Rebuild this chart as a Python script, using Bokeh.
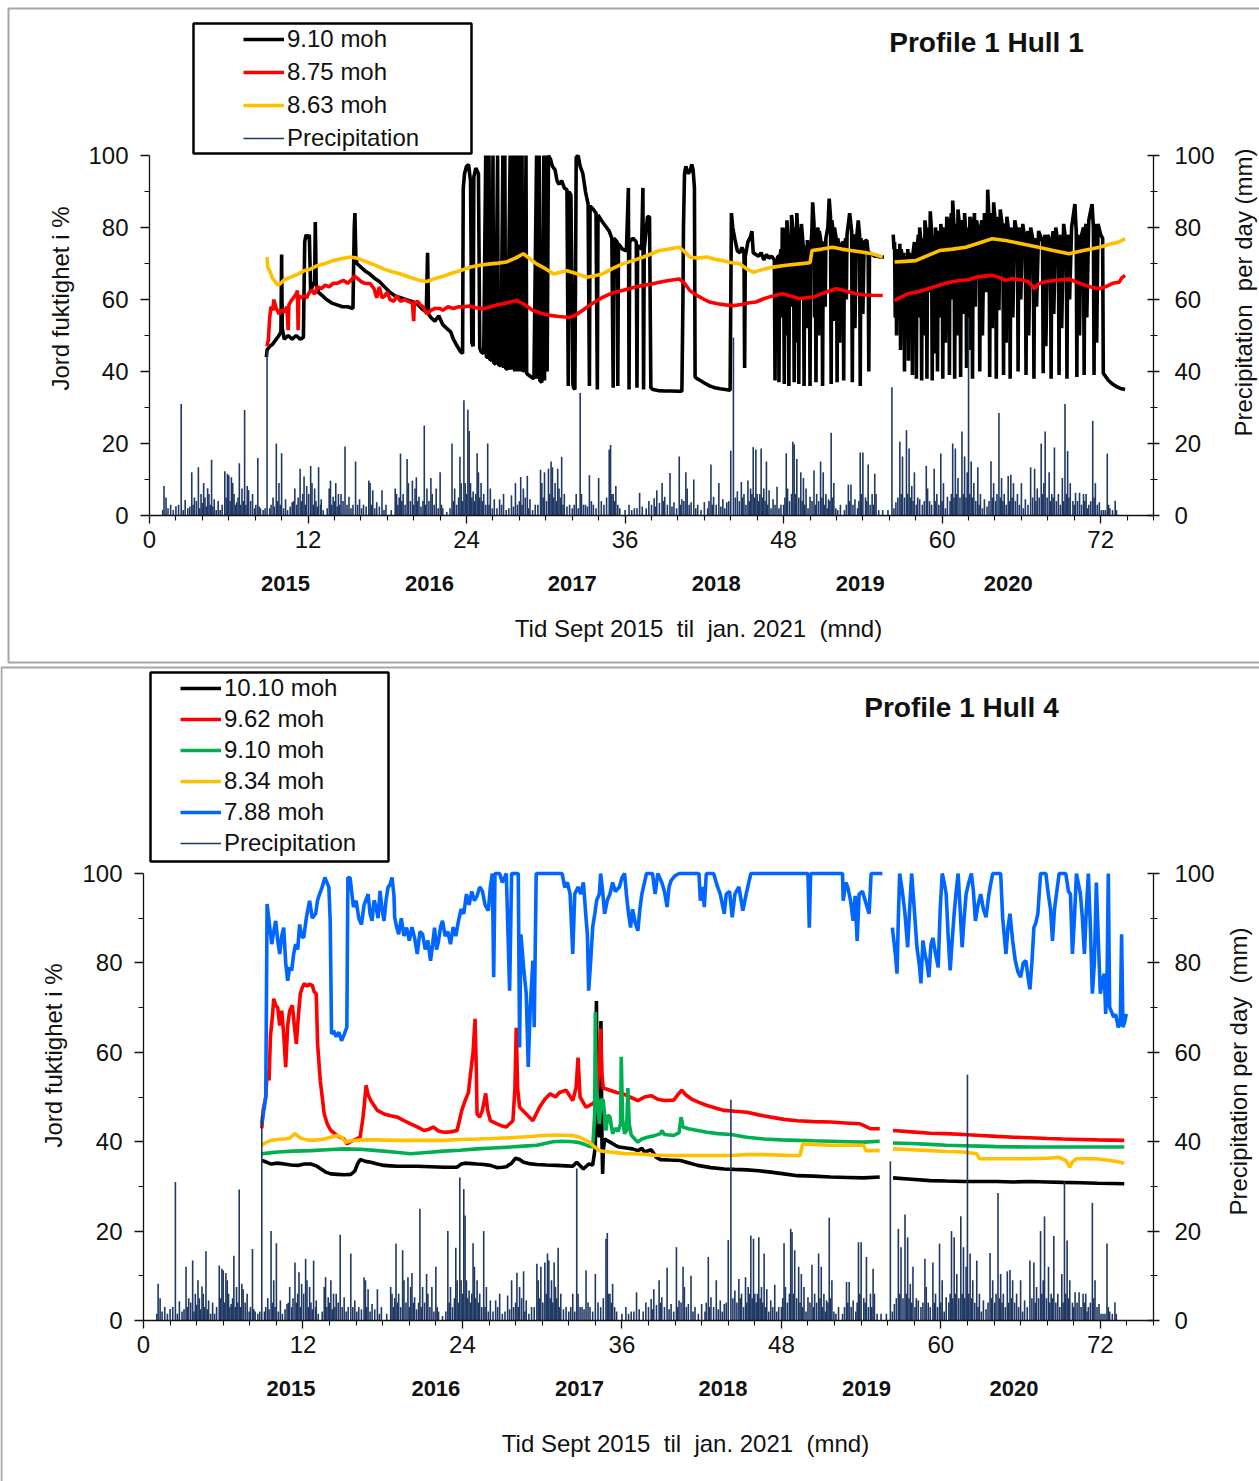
import math
from bokeh.plotting import figure
from bokeh.models import (Range1d, LinearAxis, FixedTicker, Legend, LegendItem,
                          Label, BoxAnnotation)
from bokeh.layouts import column
from bokeh.embed import file_html
from bokeh.resources import INLINE

NAN = float("nan")

# ---------------- DATA (month since Sept 2015, value) ----------------
# daily precipitation (mm): the visible peaks
precipitation = [
    (1.1, 8.2), (1.25, 5), (1.6, 3), (2.0, 2.6), (2.4, 31), (2.7, 4.3), (2.9, 2), (3.2, 12), (3.4, 5),
    (3.7, 13.4), (3.9, 6), (4.1, 9), (4.2, 5), (4.4, 7.6), (4.5, 6), (4.7, 15.5), (4.9, 4.5), (5.2, 4),
    (5.7, 12.3), (5.9, 11.6), (6.0, 11.2), (6.2, 10.6), (6.3, 9), (6.4, 6), (6.6, 3.7), (6.8, 14.5),
    (7.0, 7.5), (7.2, 29.3), (7.4, 8.2), (7.5, 7), (7.8, 6), (8.2, 16), (8.4, 2), (8.9, 46), (9.1, 2),
    (9.6, 20), (9.8, 9), (10.0, 17.3), (10.3, 4.5), (10.8, 3.7), (11.0, 7.5), (11.4, 13), (11.6, 6),
    (11.7, 10.8), (11.9, 8.2), (12.2, 13.8), (12.3, 9), (12.5, 7.5), (12.8, 13.4), (13.0, 4.5),
    (13.6, 7.5), (13.7, 9.7), (13.9, 5.2), (14.1, 9), (14.3, 6), (14.5, 6), (14.8, 19.2), (15.1, 5.2),
    (15.6, 15), (15.9, 4.5), (16.2, 3), (16.6, 9.7), (16.7, 9), (16.9, 7), (17.2, 3.7), (17.6, 7),
    (17.9, 3), (18.6, 7.5), (18.7, 6), (19.0, 17.2), (19.2, 6), (19.5, 15.7), (19.6, 9), (19.9, 9.7),
    (20.1, 7.5), (20.2, 10.6), (20.4, 5.2), (20.8, 25), (21.0, 7.5), (21.3, 10.4), (21.4, 6),
    (21.7, 7.5), (22.0, 12), (22.2, 2), (22.9, 20), (23.1, 7.5), (23.5, 16.3), (23.6, 9), (23.8, 32),
    (23.9, 9), (24.1, 29.4), (24.2, 23.5), (24.3, 9), (24.5, 6.7), (24.8, 17.3), (24.9, 12), (25.1, 9),
    (25.3, 6), (25.6, 20), (25.8, 7.5), (26.1, 4.5), (26.5, 4.5), (26.8, 6), (27.4, 5.6), (27.7, 9),
    (28.1, 10.7), (28.3, 7.5), (28.6, 11), (28.8, 4.5), (29.2, 3), (29.6, 12.7), (29.7, 9), (29.9, 12),
    (30.2, 13), (30.4, 15), (30.5, 13.4), (30.7, 9), (30.9, 13), (31.0, 7.5), (31.2, 16.3), (31.4, 6),
    (31.8, 3), (32.3, 6), (32.6, 34), (32.7, 6), (33.0, 3), (33.3, 11.2), (33.6, 3), (34.0, 10.4),
    (34.4, 3), (34.8, 18.3), (34.9, 19.6), (35.1, 6), (35.3, 8.2), (35.6, 2), (36.3, 3), (36.7, 2),
    (37.1, 6.3), (37.8, 4), (38.2, 4.8), (38.4, 7), (38.8, 9), (39.0, 5.2), (39.4, 11.8), (39.7, 3.7),
    (40.1, 16.4), (40.3, 4.5), (40.6, 12), (40.7, 7.5), (41.0, 3.7), (41.2, 10), (41.5, 3), (42.0, 3.7),
    (42.5, 14.2), (42.7, 5.2), (43.1, 9), (43.4, 4.5), (43.7, 3.7), (44.0, 18), (44.2, 49.4),
    (44.5, 6.7), (44.8, 9.3), (45.0, 6), (45.3, 9.7), (45.5, 7.5), (45.7, 19), (45.9, 18.3), (46.0, 6),
    (46.3, 18.6), (46.5, 7.5), (46.7, 15), (46.9, 7), (47.2, 4.5), (47.5, 8), (47.8, 3), (48.2, 17.3),
    (48.3, 7.5), (48.7, 20.5), (48.8, 19.8), (49.0, 15.7), (49.3, 12), (49.5, 10.4), (49.7, 7.5),
    (50.0, 5.2), (50.3, 12.5), (50.5, 6), (50.8, 15), (51.0, 12), (51.2, 6), (51.4, 4.5), (51.6, 23),
    (51.8, 9), (52.3, 3), (52.9, 8.6), (53.1, 8.6), (53.4, 4.5), (53.8, 17.5), (54.0, 17.5),
    (54.4, 14.2), (54.7, 6), (54.9, 11.6), (55.0, 6), (55.5, 1.5), (55.9, 1.5), (56.2, 35.6),
    (56.5, 3.7), (56.8, 20.5), (57.0, 16.4), (57.3, 23.7), (57.5, 18.6), (57.7, 8.2), (57.9, 12),
    (58.3, 4.5), (58.8, 13.8), (58.9, 7.5), (59.4, 13), (59.6, 6), (59.9, 17.2), (60.1, 9), (60.4, 5.2),
    (60.8, 20), (61.0, 18.6), (61.2, 10.4), (61.5, 23.3), (61.7, 16.4), (61.9, 12), (62.0, 55),
    (62.2, 15), (62.4, 9), (62.7, 13.4), (62.9, 6), (63.2, 4.5), (63.7, 15.1), (63.9, 9), (64.3, 28.5),
    (64.5, 10.4), (64.7, 6), (65.0, 11), (65.2, 11.3), (65.4, 9), (65.7, 6), (66.0, 9), (66.3, 4.5),
    (66.7, 13.4), (67.0, 13), (67.2, 7.5), (67.5, 20), (67.7, 9), (67.8, 23.3), (68.1, 12), (68.3, 6),
    (68.5, 18.9), (68.8, 6), (69.1, 10.4), (69.3, 31), (69.5, 17.9), (69.7, 9), (70.1, 6.3), (70.4, 6.3),
    (70.7, 6), (70.9, 6), (71.1, 3), (71.4, 26.3), (71.6, 9), (71.9, 3.7), (72.2, 1.5), (72.5, 17.2),
    (72.7, 2), (73.1, 4.1), (73.2, 1.5),
]

# daily precipitation (mm): the light rain days between the peaks
precipitation_light = [
    (1.0, 1.5), (1.4, 2), (1.8, 1.5), (2.2, 3), (2.55, 1.5), (3.05, 2.5), (3.3, 3), (3.55, 4), (3.8, 2),
    (4.0, 3.5), (4.3, 2.5), (4.6, 3), (4.8, 2.5), (5.05, 1.5), (5.35, 1.5), (5.5, 3), (5.8, 5), (6.1, 4),
    (6.5, 3), (6.7, 5), (6.9, 3), (7.1, 4), (7.3, 3), (7.65, 4), (7.95, 2), (8.05, 3), (8.3, 2.5),
    (8.6, 1.5), (8.75, 2), (9.2, 3), (9.35, 5), (9.45, 2.5), (9.7, 4), (9.9, 3), (10.15, 2), (10.45, 1.5),
    (10.65, 2.5), (10.9, 4), (11.15, 3), (11.25, 5), (11.5, 4), (11.8, 3), (12.05, 6), (12.4, 3),
    (12.6, 4), (12.7, 2.5), (12.95, 3), (13.15, 1.5), (13.45, 2), (13.8, 3), (14.0, 4), (14.2, 2.5),
    (14.4, 3), (14.65, 4), (14.95, 3), (15.25, 2), (15.4, 3), (15.75, 3), (16.05, 2), (16.4, 2.5),
    (16.8, 3), (17.05, 2), (17.4, 2.5), (17.75, 1.5), (18.3, 1.5), (18.8, 3), (18.9, 5), (19.1, 4),
    (19.35, 3), (19.75, 4), (20.0, 3), (20.3, 4), (20.55, 2.5), (20.7, 4), (20.9, 3), (21.15, 4),
    (21.55, 3), (21.85, 2), (22.1, 3), (22.5, 1), (22.75, 2), (23.0, 4), (23.25, 3), (23.4, 5), (23.7, 4),
    (24.0, 6), (24.4, 5), (24.6, 4), (24.7, 6), (25.0, 5), (25.2, 4), (25.45, 3), (25.7, 3), (25.95, 2),
    (26.3, 2), (26.65, 3), (27.0, 1.5), (27.2, 2), (27.55, 2.5), (27.85, 3), (28.0, 4), (28.2, 3),
    (28.45, 5), (28.7, 2), (29.0, 1.5), (29.4, 3), (29.8, 5), (30.05, 4), (30.3, 6), (30.6, 5), (30.8, 4),
    (31.1, 5), (31.3, 3), (31.6, 2.5), (32.0, 2), (32.15, 3), (32.45, 2), (32.85, 3), (33.15, 2.5),
    (33.45, 4), (33.8, 2), (34.2, 4), (34.6, 5), (35.0, 6), (35.2, 4), (35.45, 3), (36.0, 1.5),
    (36.5, 1.5), (36.9, 2), (37.3, 2.5), (37.6, 2), (38.0, 3), (38.3, 2.5), (38.6, 3.5), (38.9, 4),
    (39.2, 3), (39.55, 2.5), (39.9, 2), (40.2, 3), (40.45, 4), (40.85, 3), (41.35, 2), (41.75, 1.5),
    (42.25, 2), (42.35, 4), (42.6, 3), (42.9, 3), (43.25, 2.5), (43.55, 2), (43.85, 4), (44.35, 5),
    (44.65, 4), (44.9, 5), (45.15, 3), (45.4, 4), (45.6, 6), (45.8, 5), (46.1, 4), (46.2, 6), (46.4, 5),
    (46.6, 4), (46.8, 3), (47.05, 2), (47.35, 3), (47.65, 2), (48.0, 3), (48.1, 5), (48.45, 4), (48.6, 6),
    (48.9, 6), (49.15, 5), (49.4, 4), (49.6, 3), (49.85, 2), (50.15, 4), (50.4, 3), (50.65, 4), (50.9, 5),
    (51.1, 3), (51.3, 2), (51.5, 4), (51.7, 5), (51.95, 2), (52.1, 1.5), (52.6, 1.5), (52.75, 3),
    (53.0, 4), (53.25, 3), (53.6, 2), (53.7, 4), (53.9, 6), (54.2, 5), (54.3, 4), (54.55, 3), (54.8, 3),
    (55.2, 1.5), (56.35, 2), (56.65, 5), (56.9, 6), (57.15, 5), (57.4, 6), (57.6, 5), (57.8, 4),
    (58.05, 3), (58.15, 5), (58.5, 3), (58.65, 4), (59.05, 4), (59.2, 3), (59.5, 4), (59.75, 3), (60.0, 4),
    (60.25, 2), (60.6, 4), (60.7, 6), (60.9, 5), (61.1, 6), (61.35, 5), (61.6, 6), (61.8, 5), (62.1, 6),
    (62.3, 5), (62.55, 4), (62.8, 3), (63.05, 2), (63.4, 2.5), (63.55, 4), (63.8, 5), (64.05, 4),
    (64.15, 6), (64.4, 5), (64.6, 4), (64.85, 3), (65.1, 4), (65.3, 5), (65.55, 4), (65.85, 3), (66.15, 2),
    (66.5, 3), (66.85, 5), (67.1, 4), (67.35, 5), (67.6, 6), (67.95, 5), (68.2, 4), (68.4, 5), (68.65, 4),
    (68.95, 3), (69.2, 4), (69.4, 6), (69.6, 5), (69.9, 4), (70.0, 3), (70.25, 4), (70.55, 3), (70.8, 4),
    (71.0, 2), (71.25, 4), (71.5, 5), (71.75, 3), (72.05, 1.5), (72.35, 1.5), (72.6, 3), (72.9, 1.5),
]

hull1_910 = [
    (8.85, 44), (8.9, 46), (9.1, 47), (9.3, 47.5), (9.5, 48.5), (9.8, 50), (9.95, 51), (10.0, 72.5),
    (10.05, 52), (10.2, 49), (10.5, 50), (10.8, 49), (11.1, 50), (11.4, 49), (11.65, 49.5), (11.75, 76),
    (11.85, 78), (12.0, 77), (12.1, 78), (12.2, 62), (12.35, 64), (12.5, 65), (12.55, 81.5), (12.62, 64),
    (12.8, 62), (13.1, 61), (13.4, 60), (13.8, 59), (14.2, 58.5), (14.6, 58), (15.0, 58), (15.4, 57.5),
    (15.5, 80), (15.55, 84), (15.62, 72), (15.7, 70), (16.0, 69), (16.3, 68), (16.7, 67), (17.0, 66),
    (17.4, 65), (17.8, 63.5), (18.2, 62), (18.6, 61), (19.0, 60.5), (19.4, 60), (19.8, 59.5), (20.2, 59),
    (20.6, 57.5), (20.95, 56.5), (21.05, 73), (21.12, 56), (21.3, 55), (21.6, 54), (21.9, 55.5),
    (22.2, 53), (22.5, 52), (22.8, 51), (23.0, 49), (23.3, 47), (23.55, 45.5), (23.7, 45),
    (23.75, 91), (23.85, 95), (24.0, 97), (24.15, 97.5), (24.3, 93), (24.4, 48), (24.5, 47), (24.55, 94),
    (24.7, 96.5), (24.9, 95), (25.0, 46.5), (25.1, 45.5), (25.3, 45), (25.45, 100), (25.5, 44),
    (25.6, 44), (25.7, 100), (25.75, 43.5), (25.9, 43), (26.0, 100), (26.05, 42.5), (26.2, 42),
    (26.35, 100), (26.4, 42), (26.6, 41.5), (26.75, 100), (26.8, 41), (26.9, 100), (26.95, 41),
    (27.1, 40.5), (27.3, 100), (27.35, 40.5), (27.45, 100), (27.5, 40.5), (27.6, 100), (27.65, 40),
    (27.75, 100), (27.8, 40), (27.9, 100), (27.95, 40), (28.05, 100), (28.1, 40), (28.2, 100),
    (28.25, 40), (28.4, 40.5), (28.5, 100), (28.55, 39.5), (28.7, 39), (28.9, 38.5), (29.1, 38),
    (29.3, 100), (29.35, 38), (29.5, 100), (29.55, 37.5), (29.7, 37), (29.85, 100), (29.9, 37.5),
    (30.05, 100), (30.1, 40), (30.2, 100), (30.35, 99), (30.5, 97), (30.7, 96), (30.85, 93), (31.0, 92),
    (31.2, 93), (31.4, 91), (31.6, 90.5), (31.7, 36), (31.75, 90), (31.9, 89), (32.05, 36.5),
    (32.1, 35.5), (32.2, 35), (32.3, 99.5), (32.45, 100), (32.6, 97), (32.8, 95), (33.0, 90),
    (33.2, 86.5), (33.3, 36), (33.35, 86), (33.6, 85), (33.8, 84), (33.9, 35), (33.95, 83.5),
    (34.2, 82), (34.5, 80.5), (34.8, 79), (35.0, 77), (35.1, 35.5), (35.15, 77), (35.4, 76),
    (35.45, 36), (35.5, 75.5), (35.8, 74), (36.1, 73.5), (36.25, 91), (36.3, 35), (36.35, 76),
    (36.6, 77), (36.85, 76), (36.9, 35.5), (36.95, 75), (37.25, 74), (37.35, 91), (37.4, 35),
    (37.45, 74), (37.7, 83), (37.85, 83), (37.95, 35.5),
    (38.1, 35), (38.5, 34.7), (39.0, 34.6), (39.5, 34.6), (40.0, 34.5), (40.3, 34.5), (40.38, 60),
    (40.42, 80), (40.5, 95), (40.6, 97), (40.75, 95), (40.9, 95.5), (41.05, 97.5), (41.15, 96),
    (41.25, 91), (41.3, 38.5), (41.45, 38), (41.7, 37.5), (42.0, 36.8), (42.4, 36), (42.8, 35.5),
    (43.2, 35.2), (43.6, 35), (43.95, 34.8),
    (44.05, 84), (44.15, 80), (44.3, 77), (44.5, 73.5), (44.7, 73), (44.85, 74.5), (45.0, 73),
    (45.05, 41), (45.1, 72), (45.3, 76), (45.5, 77.5), (45.6, 79), (45.7, 73), (45.9, 72.5), (46.1, 72),
    (46.3, 73), (46.5, 71), (46.7, 72.5), (46.9, 71.5), (47.1, 72), (47.3, 71), (47.35, 37.5),
    (47.4, 70), (47.5, 60), (47.55, 72), (47.6, 72), (47.65, 37), (47.7, 71), (47.8, 74), (47.85, 55),
    (47.9, 80), (48.0, 72), (48.05, 36.5), (48.1, 78), (48.2, 80), (48.22, 50), (48.25, 82), (48.35, 76),
    (48.4, 36), (48.45, 75), (48.55, 78), (48.57, 58), (48.6, 83.5), (48.75, 78), (48.8, 37),
    (48.85, 77), (48.95, 80), (48.97, 48), (49.0, 84), (49.1, 76), (49.15, 36.5), (49.2, 78), (49.3, 80),
    (49.32, 60), (49.35, 81), (49.5, 74), (49.55, 36), (49.6, 73), (49.7, 75), (49.72, 52), (49.8, 76.5),
    (49.95, 72), (50.0, 36), (50.05, 73), (50.15, 80), (50.2, 87), (50.3, 81), (50.35, 55), (50.4, 79),
    (50.45, 37), (50.5, 78), (50.6, 80), (50.65, 50), (50.7, 79), (50.9, 74.5), (50.95, 36), (51.0, 75),
    (51.1, 76), (51.15, 58), (51.2, 77), (51.35, 80), (51.45, 88), (51.55, 83), (51.6, 36.5),
    (51.65, 82), (51.75, 79), (51.8, 54), (51.85, 80), (52.0, 76.5), (52.05, 37), (52.1, 77), (52.2, 74),
    (52.25, 48), (52.3, 75), (52.5, 76), (52.55, 37.5), (52.6, 75), (52.7, 77), (52.75, 60), (52.8, 78),
    (53.0, 84), (53.15, 79), (53.2, 37), (53.25, 78), (53.35, 77), (53.4, 52), (53.5, 76), (53.65, 82),
    (53.75, 78), (53.8, 36), (53.85, 77), (53.95, 75), (54.0, 56), (54.1, 76), (54.3, 76.5), (54.4, 73),
    (54.45, 40), (54.5, 73), (54.7, 72.5), (54.9, 72), (55.1, 72), (55.3, 71.8), (55.6, 71.8),
    (55.9, NAN),
    (56.3, 78), (56.35, 74), (56.4, 76), (56.45, 55), (56.5, 73), (56.55, 50), (56.6, 74), (56.7, 72),
    (56.75, 62), (56.8, 75.5), (56.85, 46), (56.9, 74), (57.0, 71), (57.05, 58), (57.1, 73), (57.15, 40),
    (57.2, 72), (57.3, 70), (57.35, 52), (57.4, 74), (57.45, 43), (57.5, 73), (57.6, 71), (57.65, 60),
    (57.7, 72.5), (57.75, 39), (57.8, 73), (57.9, 76), (57.95, 48), (58.0, 75), (58.05, 38), (58.1, 74),
    (58.2, 78), (58.25, 55), (58.3, 80), (58.4, 76), (58.45, 37.5), (58.5, 77), (58.6, 75), (58.65, 50),
    (58.7, 82), (58.8, 78), (58.85, 38), (58.9, 77), (59.0, 80), (59.05, 62), (59.1, 84.5), (59.2, 79),
    (59.25, 37.5), (59.3, 78), (59.4, 76), (59.45, 45), (59.5, 80), (59.6, 76), (59.65, 40), (59.7, 77),
    (59.8, 79), (59.85, 55), (59.9, 81), (60.0, 77), (60.05, 38), (60.1, 78), (60.2, 80), (60.25, 48),
    (60.35, 83), (60.5, 79), (60.55, 39), (60.6, 80), (60.7, 84), (60.75, 60), (60.8, 87.5), (60.9, 80),
    (60.95, 38), (61.0, 81), (61.1, 79), (61.15, 50), (61.2, 85), (61.35, 79), (61.4, 38.5), (61.45, 80),
    (61.55, 82), (61.6, 56), (61.7, 84), (61.8, 78), (61.85, 41), (61.9, 80), (62.0, 78), (62.05, 46),
    (62.1, 83), (62.25, 79), (62.3, 38), (62.35, 80), (62.45, 84), (62.5, 58), (62.6, 82), (62.8, 78),
    (62.85, 40), (62.9, 79), (63.0, 82), (63.05, 50), (63.2, 84), (63.3, 80), (63.35, 62), (63.45, 90.5),
    (63.55, 82), (63.6, 38.5), (63.65, 81), (63.75, 84), (63.8, 52), (63.9, 87), (64.05, 80), (64.1, 38),
    (64.15, 80), (64.25, 83), (64.3, 57), (64.4, 85), (64.6, 79), (64.65, 39), (64.7, 80), (64.8, 81),
    (64.85, 48), (64.9, 83), (65.1, 77), (65.15, 38), (65.2, 78), (65.3, 80), (65.35, 55), (65.5, 82),
    (65.7, 78), (65.75, 40), (65.8, 78), (65.9, 80), (65.95, 60), (66.1, 81), (66.3, 76), (66.35, 39),
    (66.4, 77), (66.5, 79), (66.55, 50), (66.7, 80), (66.9, 76), (66.95, 38), (67.0, 77), (67.1, 75),
    (67.15, 58), (67.3, 79), (67.6, 76), (67.65, 39.5), (67.7, 76), (67.8, 78), (67.85, 47), (68.0, 78),
    (68.2, 75), (68.25, 38), (68.3, 76), (68.4, 79), (68.45, 56), (68.6, 80), (68.8, 75), (68.85, 39),
    (68.9, 76), (69.0, 78), (69.05, 52), (69.2, 81), (69.4, 75), (69.45, 38), (69.5, 76), (69.6, 78),
    (69.65, 60), (69.8, 80), (70.05, 86.5), (70.15, 79), (70.2, 38.5), (70.25, 78), (70.35, 76),
    (70.4, 50), (70.5, 77), (70.7, 80), (70.75, 39), (70.8, 79), (70.9, 81), (70.95, 55), (71.1, 82),
    (71.35, 86.5), (71.45, 80), (71.5, 39), (71.55, 79), (71.65, 81), (71.7, 48), (71.8, 81), (72.0, 78),
    (72.15, 77), (72.2, 39.5), (72.4, 38.5), (72.6, 37.5), (72.9, 36.5), (73.2, 35.8), (73.5, 35.3),
    (73.85, 35),
]

hull1_875 = [
    (8.9, 47), (9.0, 49), (9.1, 55), (9.2, 58), (9.35, 57), (9.4, 60), (9.6, 57.5), (9.8, 56), (10.0, 57),
    (10.2, 56.5), (10.4, 58), (10.5, 51.5), (10.55, 58.5), (10.7, 59.5), (10.9, 60.5), (11.1, 61.5),
    (11.2, 62.5), (11.25, 51.5), (11.3, 61), (11.5, 60.5), (11.7, 61), (11.9, 60.5), (12.1, 62),
    (12.3, 62.5), (12.5, 61.5), (12.7, 63.5), (13.0, 63), (13.3, 64), (13.6, 63.5), (13.9, 64.5),
    (14.2, 64.5), (14.5, 65), (14.7, 65.3), (15.0, 64.5), (15.3, 65.5), (15.5, 66.5), (15.7, 66),
    (16.0, 65), (16.3, 64.5), (16.7, 64.4), (17.0, 63), (17.2, 60.5), (17.4, 63.5), (17.6, 60.5),
    (17.8, 61), (18.0, 62), (18.2, 60), (18.5, 59.5), (18.7, 61), (19.0, 59.5), (19.3, 60), (19.6, 59.5),
    (19.9, 59), (20.0, 54), (20.05, 59), (20.3, 59.5), (20.5, 58.5), (20.7, 58), (21.0, 56), (21.3, 57),
    (21.6, 57.5), (22.0, 57.5), (22.2, 57), (22.6, 58), (23.0, 57.5), (23.4, 58), (23.75, 57.9),
    (24.2, 58.2), (24.7, 57.7), (25.3, 57.4), (25.8, 58), (26.3, 58.5), (26.8, 58.8), (27.3, 59.3),
    (27.8, 59.7), (28.3, 58.8), (29.0, 57), (29.6, 56.2), (30.3, 55.6), (31.0, 55.3), (31.8, 55),
    (32.3, 55.8), (32.8, 57), (33.5, 58.8), (34.3, 60.6), (35.0, 61.8), (35.8, 62.5), (36.5, 63.2),
    (37.3, 63.9), (38.0, 64.3), (38.6, 64.8), (39.3, 65.3), (40.1, 65.7), (40.5, 64.5), (40.9, 62.5),
    (41.5, 61), (42.0, 60), (42.4, 59.3), (43.0, 58.8), (43.6, 58.5), (44.2, 58.3), (44.8, 58.6),
    (45.4, 59.1), (45.9, 59.3), (46.5, 60.2), (47.2, 61), (47.9, 61.6), (48.5, 61), (49.2, 60.2),
    (49.7, 60.5), (50.2, 60.6), (50.8, 61.5), (51.4, 62.3), (52.0, 63), (52.6, 62.5), (53.0, 62),
    (53.5, 61.6), (54.0, 61.3), (54.7, 61.2), (55.5, 61.1),
    (55.9, NAN),
    (56.4, 59.7), (56.8, 60.5), (57.4, 61.6), (58.0, 62), (58.6, 62.6), (59.3, 63.4), (60.0, 64.2),
    (60.6, 64.8), (61.3, 65.3), (62.0, 65.5), (62.6, 66.2), (63.2, 66.5), (63.8, 66.7), (64.4, 66),
    (64.8, 65.3), (65.3, 65.8), (65.9, 65.5), (66.5, 65), (67.0, 63), (67.3, 64.4), (67.9, 65),
    (68.5, 65.3), (69.0, 65.5), (69.6, 65.7), (70.2, 64.8), (70.8, 64), (71.4, 63.3), (71.9, 63),
    (72.4, 63.6), (72.9, 64.5), (73.4, 64.8), (73.6, 66), (73.85, 66.7),
]

hull1_863 = [
    (8.9, 71.8), (8.95, 69), (9.1, 68), (9.3, 66), (9.5, 65), (9.7, 64), (9.9, 64.4), (10.2, 65.5),
    (10.7, 66.2), (11.2, 67), (11.7, 68), (12.2, 68.5), (12.7, 69.4), (13.3, 70), (13.9, 70.8),
    (14.5, 71.3), (15.2, 71.8), (15.7, 71.5), (16.2, 70.8), (16.9, 69.8), (17.7, 68.5), (18.3, 67.8),
    (19.0, 67.1), (19.7, 66.2), (20.5, 65.3), (21.0, 65), (21.5, 65.7), (22.1, 66.3), (22.7, 67.1),
    (23.5, 68), (24.3, 69), (25.0, 69.5), (25.8, 69.9), (26.4, 70.1), (27.0, 70.4), (27.7, 71.5),
    (28.3, 72.7), (28.8, 71.3), (29.3, 69.9), (30.0, 68.5), (30.6, 67.1), (31.1, 67.6), (31.6, 68),
    (32.3, 67.2), (33.1, 66.2), (33.7, 66.6), (34.3, 67.1), (35.0, 68.5), (35.8, 69.9), (36.6, 70.8),
    (37.4, 71.8), (38.0, 72.7), (38.6, 73.6), (39.3, 74), (40.1, 74.5), (40.5, 73.3), (40.9, 71.8),
    (41.5, 71.5), (42.2, 71.8), (42.8, 71.2), (43.4, 70.8), (44.0, 70.3), (44.7, 69.9), (45.2, 68.5),
    (45.7, 67.6), (46.4, 68.3), (47.2, 69), (48.2, 69.5), (49.2, 69.9), (50.0, 70.2), (50.15, 73.6),
    (50.9, 74), (51.7, 74.5), (52.4, 74), (53.1, 73.6), (53.9, 73.2), (54.7, 72.7), (55.5, 71.8),
    (55.9, NAN),
    (56.4, 70.4), (57.2, 70.6), (58.0, 70.8), (58.9, 72.2), (59.8, 73.6), (60.8, 74), (61.8, 74.5),
    (62.8, 75.7), (63.8, 76.9), (64.8, 76.4), (66.0, 75.5), (67.3, 74.5), (68.4, 73.6), (69.6, 72.7),
    (70.7, 73.6), (71.9, 74.5), (72.8, 75.5), (73.4, 76), (73.85, 76.9),
]

hull4_1010 = [
    (8.9, 35.8), (9.2, 35.5), (9.6, 35), (10.1, 35.2), (10.6, 35), (11.1, 34.8), (11.6, 34.7),
    (12.1, 35), (12.6, 35), (13.0, 34.6), (13.3, 34), (13.7, 33.2), (14.1, 32.8), (14.6, 32.7),
    (15.1, 32.6), (15.6, 32.7), (15.9, 33.4), (16.1, 35), (16.3, 36), (16.7, 35.6), (17.1, 35.4),
    (17.6, 35), (18.1, 34.7), (18.6, 34.6), (19.1, 34.5), (19.8, 34.5), (20.6, 34.5), (21.6, 34.4),
    (22.6, 34.3), (23.6, 34.3), (23.9, 35), (24.2, 35.2), (24.7, 35.1), (25.1, 35), (25.6, 34.9),
    (26.1, 34.7), (26.6, 34.2), (27.0, 34.3), (27.3, 34.4), (27.7, 35.2), (28.0, 36.3), (28.3, 36),
    (28.6, 35.4), (29.0, 35.1), (29.6, 34.9), (30.3, 34.8), (31.1, 34.7), (31.8, 34.6), (32.3, 34.5),
    (32.6, 35.4), (32.9, 34.5), (33.1, 33.9), (33.5, 35), (33.8, 34.8), (34.0, 38.8), (34.08, 71.5),
    (34.15, 43), (34.3, 41), (34.42, 67), (34.5, 40), (34.55, 32.8), (34.6, 38), (34.7, 40.6),
    (35.1, 39.9), (35.5, 39.2), (35.8, 38.8), (36.3, 38.6), (36.8, 38.4), (37.2, 38), (37.5, 38.5),
    (37.7, 37.7), (38.2, 38.2), (38.6, 36.5), (38.9, 36), (39.6, 35.9), (40.4, 35.8), (41.0, 35.3),
    (41.7, 34.7), (42.7, 34.2), (43.7, 33.9), (44.5, 33.8), (45.4, 33.7), (46.3, 33.5), (47.2, 33.2),
    (48.2, 32.8), (49.2, 32.4), (50.4, 32.3), (51.7, 32.1), (53.0, 32), (54.2, 31.9), (55.4, 32.1),
    (55.9, NAN),
    (56.4, 31.9), (57.8, 31.6), (59.2, 31.3), (60.4, 31.2), (61.7, 31.1), (63.0, 31.1), (64.2, 31.1),
    (65.5, 31), (66.7, 31.1), (68.0, 31), (69.2, 30.9), (70.5, 30.8), (71.8, 30.7), (73.8, 30.6),
]

hull4_962 = [
    (8.9, 43), (9.0, 47), (9.2, 50), (9.3, 55.9), (9.45, 53.7), (9.55, 63.4), (9.7, 68), (9.8, 72),
    (9.95, 70.5), (10.1, 70), (10.25, 66), (10.4, 69.3), (10.55, 64), (10.7, 56.7), (10.85, 66),
    (11.0, 69.3), (11.2, 70.5), (11.35, 66), (11.5, 61.9), (11.65, 68), (11.8, 73.1), (11.95, 74.5),
    (12.1, 75.4), (12.3, 74.8), (12.45, 75.2), (12.7, 75), (12.85, 73.5), (13.0, 73.1), (13.1, 61.9),
    (13.3, 53.7), (13.45, 50), (13.6, 46.2), (13.85, 43.8), (14.1, 42.5), (14.6, 41.3), (15.1, 40.6),
    (15.3, 39.5), (15.7, 40.2), (16.0, 40.6), (16.3, 41), (16.5, 45), (16.6, 47.7), (16.75, 52.6),
    (16.9, 50.5), (17.1, 49.2), (17.6, 47), (18.1, 46.2), (18.6, 45.8), (19.1, 45.5), (19.6, 44.7),
    (20.1, 44), (20.6, 43.3), (21.1, 42.5), (21.5, 42.8), (21.8, 43.3), (22.2, 42.4), (22.6, 42.1),
    (23.1, 42.2), (23.6, 42.5), (23.95, 47), (24.2, 49.2), (24.45, 51), (24.6, 55), (24.8, 60),
    (24.95, 67.5), (25.05, 55), (25.1, 46.2), (25.3, 45.5), (25.5, 47), (25.75, 50.8), (25.9, 47),
    (26.1, 44.7), (26.6, 44), (27.0, 43.5), (27.3, 43.3), (27.8, 44.7), (27.95, 52), (28.05, 65.5),
    (28.15, 52), (28.3, 47.7), (28.8, 46.2), (29.3, 44.7), (29.8, 47.7), (30.2, 49.5), (30.6, 50.7),
    (31.0, 50), (31.3, 51), (31.8, 51.5), (32.3, 49.2), (32.55, 52), (32.7, 58.8), (32.85, 50),
    (33.3, 47.7), (33.8, 48.5), (34.1, 49.5), (34.25, 56), (34.4, 65.3), (34.5, 55), (34.6, 52),
    (35.1, 51.5), (35.6, 51), (36.1, 50.7), (36.6, 50), (37.2, 49.2), (37.7, 50), (38.2, 50.3),
    (38.7, 49.5), (39.2, 49.2), (39.9, 49.3), (40.2, 50.5), (40.5, 51.5), (40.8, 50.5), (41.2, 49.6),
    (41.8, 48.8), (42.4, 48.1), (43.1, 47.5), (43.7, 47), (44.5, 46.8), (45.4, 46.6), (46.3, 46),
    (47.2, 45.5), (48.2, 45), (49.2, 44.7), (50.4, 44.5), (51.7, 44.4), (52.8, 44.2), (53.9, 44),
    (54.3, 43.5), (54.7, 42.9), (55.4, 42.9),
    (55.9, NAN),
    (56.4, 42.5), (57.8, 42.2), (59.2, 41.9), (60.4, 41.8), (61.7, 41.6), (63.0, 41.4), (64.2, 41.2),
    (65.5, 41), (66.7, 40.9), (68.0, 40.7), (69.2, 40.6), (70.5, 40.5), (71.8, 40.4), (73.8, 40.3),
]

hull4_910 = [
    (8.9, 37.3), (9.5, 37.5), (10.1, 37.7), (11.3, 37.9), (12.6, 38), (13.8, 38.2), (15.1, 38.4),
    (16.3, 38.3), (17.6, 38), (18.8, 37.7), (20.1, 37.3), (21.3, 37.6), (22.6, 37.9), (23.8, 38.1),
    (25.1, 38.4), (26.3, 38.6), (27.6, 38.8), (28.6, 39), (29.6, 39.2), (30.2, 39.6), (30.8, 40),
    (31.5, 40.1), (32.3, 40), (32.8, 39.8), (33.1, 39.5), (33.5, 39), (33.8, 38.8), (33.95, 46.2),
    (34.0, 69), (34.05, 52), (34.15, 50), (34.3, 44), (34.45, 49.5), (34.6, 49.2), (34.8, 42.5),
    (34.95, 46), (35.1, 45.5), (35.3, 41.8), (35.5, 43), (35.7, 42.3), (35.9, 44), (35.95, 59),
    (36.05, 45), (36.2, 41.8), (36.35, 42.5), (36.45, 52), (36.55, 44), (36.7, 41.5), (37.0, 40.5),
    (37.2, 39.9), (37.5, 40.6), (37.9, 41), (38.4, 41.3), (38.9, 41.8), (39.0, 42.5), (39.2, 41.6),
    (39.9, 41.4), (40.3, 42), (40.45, 45.5), (40.6, 43.3), (41.0, 42.9), (41.7, 42.5), (42.4, 42.1),
    (43.2, 41.8), (44.2, 41.6), (45.4, 41), (46.7, 40.6), (48.0, 40.4), (49.2, 40.3), (50.4, 40.2),
    (51.7, 40.1), (53.0, 40), (54.2, 39.9), (55.4, 40.1),
    (55.9, NAN),
    (56.4, 39.7), (57.8, 39.6), (59.2, 39.4), (60.4, 39.2), (61.7, 39.1), (63.0, 39), (64.2, 38.9),
    (66.7, 38.8), (69.2, 38.8), (71.5, 38.8), (73.8, 38.8),
]

hull4_834 = [
    (8.9, 39.2), (9.2, 39.8), (9.6, 40.3), (10.1, 40.5), (10.6, 40.6), (11.0, 40.8), (11.4, 41.8),
    (11.8, 40.8), (12.2, 40.5), (12.6, 40.3), (13.1, 40.4), (13.6, 40.6), (14.1, 41), (14.6, 41.4),
    (14.9, 41), (15.2, 39.9), (15.6, 40.2), (16.1, 40.3), (16.8, 40.4), (17.6, 40.4), (18.8, 40.3),
    (20.1, 40.3), (21.3, 40.3), (22.6, 40.3), (23.8, 40.5), (25.1, 40.6), (26.3, 40.7), (27.6, 40.9),
    (28.8, 41.1), (30.1, 41.4), (31.2, 41.5), (32.3, 41.4), (32.8, 41), (33.1, 40.6), (33.5, 40),
    (33.8, 39.2), (34.3, 38), (34.7, 37.8), (35.1, 37.7), (35.7, 37.5), (36.3, 37.3), (36.7, 37.3),
    (37.6, 37.2), (38.4, 37), (39.2, 36.9), (40.4, 36.9), (41.7, 36.9), (43.0, 36.9), (44.2, 36.9),
    (45.4, 37.1), (46.7, 37.1), (47.9, 37), (48.8, 36.9), (49.4, 36.9), (49.6, 39.5), (50.4, 39.4),
    (51.7, 39.2), (53.0, 39.2), (54.2, 39.2), (54.35, 38), (55.4, 38),
    (55.9, NAN),
    (56.4, 38.4), (57.8, 38.2), (59.2, 38), (60.4, 37.8), (61.7, 37.7), (62.7, 37.3), (62.9, 36.2),
    (64.2, 36.2), (65.5, 36.2), (66.7, 36.2), (68.0, 36.3), (68.9, 36.5), (69.4, 35.8), (69.7, 34.3),
    (69.9, 35.5), (70.2, 36.2), (71.0, 36.2), (71.7, 36.2), (72.7, 35.8), (73.3, 35.5), (73.8, 35.2),
]

hull4_788 = [
    (8.9, 44), (9.05, 47), (9.2, 50), (9.3, 93.2), (9.5, 88), (9.65, 84.2), (9.8, 87), (9.95, 89.4),
    (10.1, 85), (10.25, 82), (10.4, 86), (10.55, 87.9), (10.7, 80), (10.85, 76), (11.0, 79),
    (11.15, 78.3), (11.3, 82), (11.45, 84.2), (11.6, 83), (11.75, 88.6), (11.9, 86), (12.05, 85.6),
    (12.25, 90), (12.5, 93.9), (12.7, 90), (12.95, 91), (13.1, 94), (13.25, 95.4), (13.45, 97),
    (13.65, 99.1), (13.8, 98), (13.95, 96.9), (14.05, 89.4), (14.15, 64.1), (14.3, 64.8), (14.5, 63.5),
    (14.7, 64.5), (14.9, 62.6), (15.1, 64), (15.3, 65.6), (15.38, 99.1), (15.55, 99), (15.7, 95),
    (15.8, 92.5), (16.0, 93.9), (16.2, 90), (16.4, 88.6), (16.6, 93), (16.9, 95.4), (17.05, 91),
    (17.2, 89.4), (17.35, 94), (17.5, 92.5), (17.65, 90), (17.8, 96.1), (17.95, 92), (18.1, 89.4),
    (18.25, 94), (18.4, 96.9), (18.55, 97.5), (18.7, 99.1), (18.85, 95), (18.9, 90.2), (19.05, 88),
    (19.2, 86.4), (19.4, 90), (19.6, 86), (19.8, 87.9), (20.0, 85), (20.2, 88), (20.4, 85.6), (20.6, 82),
    (20.8, 87), (21.0, 86.4), (21.2, 83), (21.4, 85), (21.6, 80.5), (21.75, 84), (21.9, 87.9),
    (22.05, 83), (22.2, 84.9), (22.35, 88), (22.5, 89.4), (22.7, 86), (22.9, 87), (23.1, 84.2),
    (23.3, 88), (23.5, 86), (23.7, 89.4), (23.9, 92), (24.1, 91), (24.3, 95.4), (24.5, 93), (24.7, 96),
    (24.9, 93.9), (25.1, 95), (25.3, 97), (25.5, 96.1), (25.7, 93), (25.95, 91.7), (26.1, 97),
    (26.25, 100), (26.35, 76.8), (26.45, 100), (26.8, 100), (27.0, 98), (27.3, 100), (27.55, 73.8),
    (27.7, 100), (28.0, 100), (28.2, 100), (28.3, 61.1), (28.4, 86.4), (28.6, 79), (28.8, 73.1),
    (28.95, 56.7), (29.1, 70), (29.3, 80.5), (29.4, 65.6), (29.55, 100), (30.0, 100), (30.5, 100),
    (31.0, 100), (31.5, 100), (31.7, 96.9), (31.9, 98), (32.1, 95.4), (32.3, 82), (32.45, 95.4),
    (32.7, 97), (32.9, 95.4), (33.1, 98), (33.3, 90), (33.4, 86.4), (33.5, 73.8), (33.65, 80.5),
    (33.8, 88), (33.96, 91), (34.1, 94), (34.3, 95.4), (34.4, 100), (34.55, 96), (34.7, 91), (34.9, 94),
    (35.1, 95.4), (35.3, 98), (35.5, 96), (35.8, 96.9), (36.0, 99), (36.2, 100), (36.35, 95), (36.5, 91),
    (36.65, 87.9), (36.8, 92), (37.0, 89), (37.2, 87.2), (37.35, 92), (37.5, 95.4), (37.7, 98),
    (37.85, 100), (38.3, 100), (38.5, 95.4), (38.7, 100), (39.0, 98), (39.2, 96), (39.4, 92.5),
    (39.55, 97), (39.7, 98.4), (40.0, 99.5), (40.3, 100), (41.0, 100), (41.8, 100), (41.9, 93.9),
    (42.05, 97), (42.2, 92.5), (42.35, 100), (42.9, 100), (43.2, 97), (43.4, 95.4), (43.7, 91),
    (43.85, 95.4), (44.1, 96), (44.3, 90.2), (44.5, 95.4), (44.8, 97), (45.1, 91.7), (45.35, 95.4),
    (45.7, 100), (46.5, 100), (47.5, 100), (48.5, 100), (49.5, 100), (50.0, 100), (50.1, 87.9),
    (50.2, 100), (51.0, 100), (52.0, 100), (52.6, 100), (52.65, 93.9), (52.85, 98), (53.0, 96.9),
    (53.2, 94), (53.4, 89.4), (53.55, 95), (53.7, 84.9), (53.85, 95.4), (54.1, 96), (54.3, 94),
    (54.6, 91), (54.75, 100), (55.6, 100),
    (55.9, NAN),
    (56.35, 87.9), (56.5, 84), (56.6, 81.3), (56.7, 77.6), (56.8, 90), (56.9, 100), (57.1, 96),
    (57.3, 91), (57.5, 83.5), (57.65, 92), (57.8, 100), (58.0, 92), (58.2, 83.5), (58.4, 79),
    (58.5, 75.4), (58.65, 85), (58.8, 82), (58.95, 80), (59.1, 76.8), (59.25, 84), (59.4, 85.6),
    (59.6, 82), (59.8, 79), (59.95, 92), (60.1, 100), (60.25, 98), (60.4, 95.4), (60.55, 86),
    (60.7, 78.3), (60.85, 85), (61.0, 91), (61.15, 96), (61.3, 100), (61.45, 92), (61.6, 83.5),
    (61.75, 90), (61.9, 95.4), (62.1, 98), (62.3, 100), (62.45, 96), (62.6, 89.4), (62.8, 93),
    (63.0, 95.4), (63.2, 92), (63.4, 90.2), (63.6, 95), (63.7, 96.9), (63.9, 100), (64.3, 100),
    (64.5, 100), (64.65, 90), (64.9, 82), (65.05, 88), (65.2, 91), (65.4, 85), (65.6, 80.5), (65.8, 78),
    (66.0, 76.8), (66.2, 80), (66.4, 80.5), (66.55, 77), (66.7, 74.1), (66.85, 80), (67.0, 87.9),
    (67.15, 89), (67.3, 91), (67.5, 100), (67.9, 100), (68.1, 95), (68.25, 92), (68.4, 84.9),
    (68.55, 92), (68.7, 95.4), (68.9, 100), (69.4, 100), (69.6, 96), (69.75, 95.4), (69.9, 82),
    (70.05, 90), (70.2, 100), (70.5, 95.4), (70.65, 90), (70.8, 82), (70.95, 92), (71.1, 100),
    (71.25, 88), (71.4, 73.1), (71.55, 80), (71.7, 98), (71.85, 85), (72.0, 73.1), (72.15, 76),
    (72.3, 77.6), (72.4, 68.6), (72.5, 75), (72.6, 100), (72.7, 70.1), (72.85, 69), (73.0, 67.9),
    (73.15, 68.5), (73.35, 65.6), (73.5, 66.5), (73.6, 86.4), (73.7, 65.6), (73.85, 67), (73.95, 68.6),
]

x_ticks = [0, 12, 24, 36, 48, 60, 72]
x_minor_ticks = [2, 4, 6, 8, 10, 14, 16, 18, 20, 22, 26, 28, 30, 32, 34, 38, 40, 42, 44, 46,
                 50, 52, 54, 56, 58, 62, 64, 66, 68, 70, 74, 76]
y_ticks = [0, 20, 40, 60, 80, 100]
y_minor_ticks = [10, 30, 50, 70, 90]
year_labels = ["2015", "2016", "2017", "2018", "2019", "2020"]
year_pos_top = [10.3, 21.2, 32.0, 42.9, 53.8, 65.0]
year_pos_bottom = [11.1, 22.0, 32.8, 43.6, 54.4, 65.5]

legend_top = ["9.10 moh", "8.75 moh", "8.63 moh", "Precipitation"]
legend_bottom = ["10.10 moh", "9.62 moh", "9.10 moh", "8.34 moh", "7.88 moh", "Precipitation"]

NB = "\u00a0"
x_title = "Tid Sept 2015 " + NB + "til " + NB + "jan. 2021 " + NB + "(mnd)"
y_title = "Jord fuktighet i %"
right_title_top = "Precipitation " + NB + "per day (mm)"
right_title_bottom = "Precipitation per day " + NB + "(mm)"

# ---------------- STYLE ----------------
FONT = "Liberation Sans"
BLACK, RED, GOLD, GREEN, BLUE, NAVY = "#000000", "#ff0000", "#ffc000", "#00b050", "#0066ff", "#1f3864"
TXT = "#111111"
SERIES_W = 3.6
AXIS_C = "#111111"
X_MAX, Y_MAX = 76, 100


def xs(pairs):
    return [p[0] for p in pairs]


def ys(pairs):
    return [p[1] for p in pairs]


precip_all = sorted(precipitation + precipitation_light)


def style_axis(ax, tick_in, tick_out, minor_in, minor_out, standoff):
    ax.major_tick_in = tick_in
    ax.major_tick_out = tick_out
    ax.minor_tick_in = minor_in
    ax.minor_tick_out = minor_out
    ax.major_label_standoff = standoff
    ax.major_label_text_font = FONT
    ax.major_label_text_font_size = "24px"
    ax.major_label_text_color = TXT
    ax.axis_line_color = AXIS_C
    ax.axis_line_width = 1.3
    ax.major_tick_line_color = AXIS_C
    ax.major_tick_line_width = 1.3
    ax.minor_tick_line_color = AXIS_C
    ax.minor_tick_line_width = 1.1


def make_panel(W, H, ax_left, ax_right, ax_top, ax_bottom):
    """Frame covers the whole canvas; axes are pinned at data 0 / 76 so that the
    plot area sits at the given canvas pixel positions."""
    ppx = (ax_right - ax_left) / X_MAX
    ppy = (ax_bottom - ax_top) / Y_MAX
    xr = Range1d(-ax_left / ppx, (W - ax_left) / ppx)
    yr = (-(H - ax_bottom) / ppy, ax_bottom / ppy)
    p = figure(width=W, height=H, output_backend="svg", toolbar_location=None,
               x_range=xr, y_range=Range1d(*yr), title=None,
               x_axis_type=None, y_axis_type=None,
               min_border_left=0, min_border_right=0, min_border_top=0, min_border_bottom=0)
    p.extra_y_ranges = {"precip": Range1d(*yr)}
    p.outline_line_color = None
    p.xgrid.visible = False
    p.ygrid.visible = False
    p.background_fill_color = "white"
    p.border_fill_color = "white"

    xa = LinearAxis(fixed_location=0, bounds=(0, X_MAX),
                    ticker=FixedTicker(ticks=x_ticks, minor_ticks=x_minor_ticks))
    style_axis(xa, 0, 8, 0, 5, 7)
    p.add_layout(xa, "below")

    ya = LinearAxis(fixed_location=0, bounds=(0, Y_MAX),
                    ticker=FixedTicker(ticks=y_ticks, minor_ticks=y_minor_ticks))
    style_axis(ya, 0, 9, 0, 5, 12)
    p.add_layout(ya, "left")

    ra = LinearAxis(fixed_location=X_MAX, bounds=(0, Y_MAX), y_range_name="precip",
                    ticker=FixedTicker(ticks=y_ticks, minor_ticks=y_minor_ticks))
    style_axis(ra, 6, 6, 3, 4, 15)
    p.add_layout(ra, "right")
    return p


def add_box(p, left, right, top, bottom, color, width, fill=None):
    p.add_layout(BoxAnnotation(left=left, right=right, top=top, bottom=bottom,
                               left_units="screen", right_units="screen",
                               top_units="screen", bottom_units="screen",
                               fill_color=fill, fill_alpha=1.0 if fill else 0.0,
                               line_color=color, line_alpha=1.0, line_width=width,
                               level="overlay"))


def add_text(p, x, y, text, size="24px", bold=False, angle=0.0, x_units="screen"):
    p.add_layout(Label(x=x, y=y, x_units=x_units, y_units="screen", text=text,
                       text_font=FONT, text_font_size=size,
                       text_font_style="bold" if bold else "normal",
                       text_color=TXT, text_align="center", text_baseline="middle",
                       angle=angle))


def add_legend(p, renderers, labels, vx, vy, spacing, box):
    left, right, top, bottom = box
    add_box(p, left, right, top, bottom, "black", 2.5, fill="white")
    items = [LegendItem(label=l, renderers=[r]) for l, r in zip(labels, renderers)]
    lg = Legend(items=items, location=(vx, vy), orientation="vertical",
                padding=0, spacing=spacing, margin=0,
                glyph_width=41, glyph_height=28, label_height=28, label_standoff=3,
                label_text_font=FONT, label_text_font_size="24px", label_text_color=TXT,
                border_line_color=None, background_fill_alpha=0)
    p.add_layout(lg, "center")


# ---------------- TOP PANEL ----------------
W, H1, H2 = 1259, 664, 817
p1 = make_panel(W, H1, 149, 1153, 155, 515)
add_box(p1, 8, W + 10, H1 - 8, 2, "#a6a6a6", 2)

r_b = p1.line(xs(hull1_910), ys(hull1_910), line_color=BLACK, line_width=SERIES_W)
r_r = p1.line(xs(hull1_875), ys(hull1_875), line_color=RED, line_width=SERIES_W)
r_y = p1.line(xs(hull1_863), ys(hull1_863), line_color=GOLD, line_width=SERIES_W)
r_p = p1.segment(x0=xs(precip_all), y0=[0] * len(precip_all), x1=xs(precip_all),
                 y1=ys(precip_all), line_color=NAVY, line_width=1.6, y_range_name="precip")

add_legend(p1, [r_b, r_r, r_y, r_p], legend_top, 243, H1 - 152, 5,
           (193, 471, H1 - 23, H1 - 153))

add_text(p1, 986, H1 - 42, "Profile 1 Hull 1", size="28px", bold=True)
add_text(p1, 60, H1 - 298, y_title, angle=math.pi / 2)
add_text(p1, 1243, H1 - 292, right_title_top, angle=math.pi / 2)
add_text(p1, 698, H1 - 628, x_title)
for pos, lab in zip(year_pos_top, year_labels):
    add_text(p1, pos, H1 - 583, lab, size="22px", bold=True, x_units="data")

# ---------------- BOTTOM PANEL (page y offset 664) ----------------
OFF = 664
p2 = make_panel(W, H2, 143, 1153, 873 - OFF, 1320 - OFF)
add_box(p2, 1, W + 10, H2 - 3, -10, "#a6a6a6", 2)

q_b = p2.line(xs(hull4_1010), ys(hull4_1010), line_color=BLACK, line_width=SERIES_W)
q_r = p2.line(xs(hull4_962), ys(hull4_962), line_color=RED, line_width=SERIES_W)
q_g = p2.line(xs(hull4_910), ys(hull4_910), line_color=GREEN, line_width=SERIES_W)
q_y = p2.line(xs(hull4_834), ys(hull4_834), line_color=GOLD, line_width=SERIES_W)
q_bl = p2.line(xs(hull4_788), ys(hull4_788), line_color=BLUE, line_width=SERIES_W)
q_p = p2.segment(x0=xs(precip_all), y0=[0] * len(precip_all), x1=xs(precip_all),
                 y1=ys(precip_all), line_color=NAVY, line_width=1.6, y_range_name="precip")

add_legend(p2, [q_b, q_r, q_g, q_y, q_bl, q_p], legend_bottom, 180, H2 - (857 - OFF), 3,
           (150, 388, H2 - (672 - OFF), H2 - (861 - OFF)))

add_text(p2, 961, H2 - (707 - OFF), "Profile 1 Hull 4", size="28px", bold=True)
add_text(p2, 53, H2 - (1055 - OFF), y_title, angle=math.pi / 2)
add_text(p2, 1238, H2 - (1071 - OFF), right_title_bottom, angle=math.pi / 2)
add_text(p2, 685, H2 - (1443 - OFF), x_title)
for pos, lab in zip(year_pos_bottom, year_labels):
    add_text(p2, pos, H2 - (1388 - OFF), lab, size="22px", bold=True, x_units="data")

layout = column(p1, p2)
open("out.html", "w").write(file_html(layout, INLINE))
